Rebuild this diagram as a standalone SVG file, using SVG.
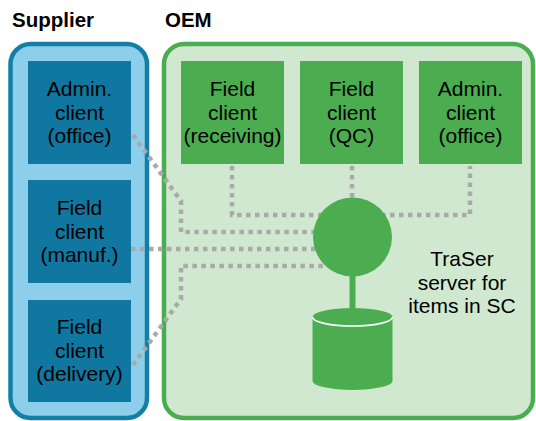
<svg xmlns="http://www.w3.org/2000/svg" width="536" height="421" viewBox="0 0 536 421">
  <style>
    .title { font-family: "Liberation Sans", Arial, sans-serif; font-size: 20.5px; font-weight: bold; fill: #000; }
    .label { font-family: "Liberation Sans", Arial, sans-serif; font-size: 21px; fill: #000; text-anchor: middle; }
    .sup-node { fill: #0f77a0; }
    .oem-node { fill: #4cad50; }
    .link { fill: none; stroke: #a9a9a9; stroke-width: 4.5; stroke-dasharray: 4.5 4.5; }
  </style>

  <!-- Organisation headings -->
  <text class="title" x="12" y="27">Supplier</text>
  <text class="title" x="165" y="27">OEM</text>

  <!-- Containers -->
  <g id="supplier">
    <rect x="10.5" y="44" width="136.5" height="374" rx="20" fill="#8dcfea" stroke="#137ea6" stroke-width="4.5"/>
  </g>
  <g id="oem">
    <rect x="164" y="44" width="369" height="374" rx="20" fill="#d0e8d0" stroke="#4cad50" stroke-width="4.5"/>
  </g>

  <!-- Supplier clients -->
  <g id="sup-admin">
    <rect class="sup-node" x="28" y="61" width="103" height="103"/>
    <text class="label" x="79.5" y="96">Admin.</text>
    <text class="label" x="79.5" y="119.5">client</text>
    <text class="label" x="79.5" y="143">(office)</text>
  </g>
  <g id="sup-manuf">
    <rect class="sup-node" x="28" y="180" width="103" height="103"/>
    <text class="label" x="79.5" y="215">Field</text>
    <text class="label" x="79.5" y="238.5">client</text>
    <text class="label" x="79.5" y="262">(manuf.)</text>
  </g>
  <g id="sup-delivery">
    <rect class="sup-node" x="28" y="300" width="103" height="102"/>
    <text class="label" x="79.5" y="334">Field</text>
    <text class="label" x="79.5" y="357.5">client</text>
    <text class="label" x="79.5" y="381">(delivery)</text>
  </g>

  <!-- OEM clients -->
  <g id="oem-receiving">
    <rect class="oem-node" x="181" y="61" width="103" height="103"/>
    <text class="label" x="232.5" y="96">Field</text>
    <text class="label" x="232.5" y="119.5">client</text>
    <text class="label" x="232.5" y="143">(receiving)</text>
  </g>
  <g id="oem-qc">
    <rect class="oem-node" x="300" y="61" width="103" height="103"/>
    <text class="label" x="351.5" y="96">Field</text>
    <text class="label" x="351.5" y="119.5">client</text>
    <text class="label" x="351.5" y="143">(QC)</text>
  </g>
  <g id="oem-admin">
    <rect class="oem-node" x="419" y="61" width="103" height="103"/>
    <text class="label" x="470.5" y="96">Admin.</text>
    <text class="label" x="470.5" y="119.5">client</text>
    <text class="label" x="470.5" y="143">(office)</text>
  </g>

  <!-- Dotted links to the server -->
  <g id="connectors">
    <path class="link" d="M133,135 L181,201 L181,232 L352,232"/>
    <path class="link" d="M131,249 L352,249"/>
    <path class="link" d="M133,365 L181,299 L181,266 L352,266"/>
    <path class="link" d="M232,166 L232,215 L470,215 L470,166"/>
    <path class="link" d="M352,166 L352,237"/>
  </g>

  <!-- Server with its database -->
  <g id="server">
    <circle cx="352.5" cy="237" r="39.5" fill="#4cad50"/>
    <rect x="349.5" y="270" width="6" height="45" fill="#4cad50"/>
    <path d="M312.5,317 A40,9 0 0 1 392.5,317 L392.5,381 A40,9 0 0 1 312.5,381 Z" fill="#4cad50"/>
    <path d="M312.5,317 A40,9 0 0 0 392.5,317" fill="none" stroke="#ffffff" stroke-width="1.6"/>
    <text class="label" x="462" y="266">TraSer</text>
    <text class="label" x="462" y="289.5">server for</text>
    <text class="label" x="462" y="313">items in SC</text>
  </g>
</svg>
